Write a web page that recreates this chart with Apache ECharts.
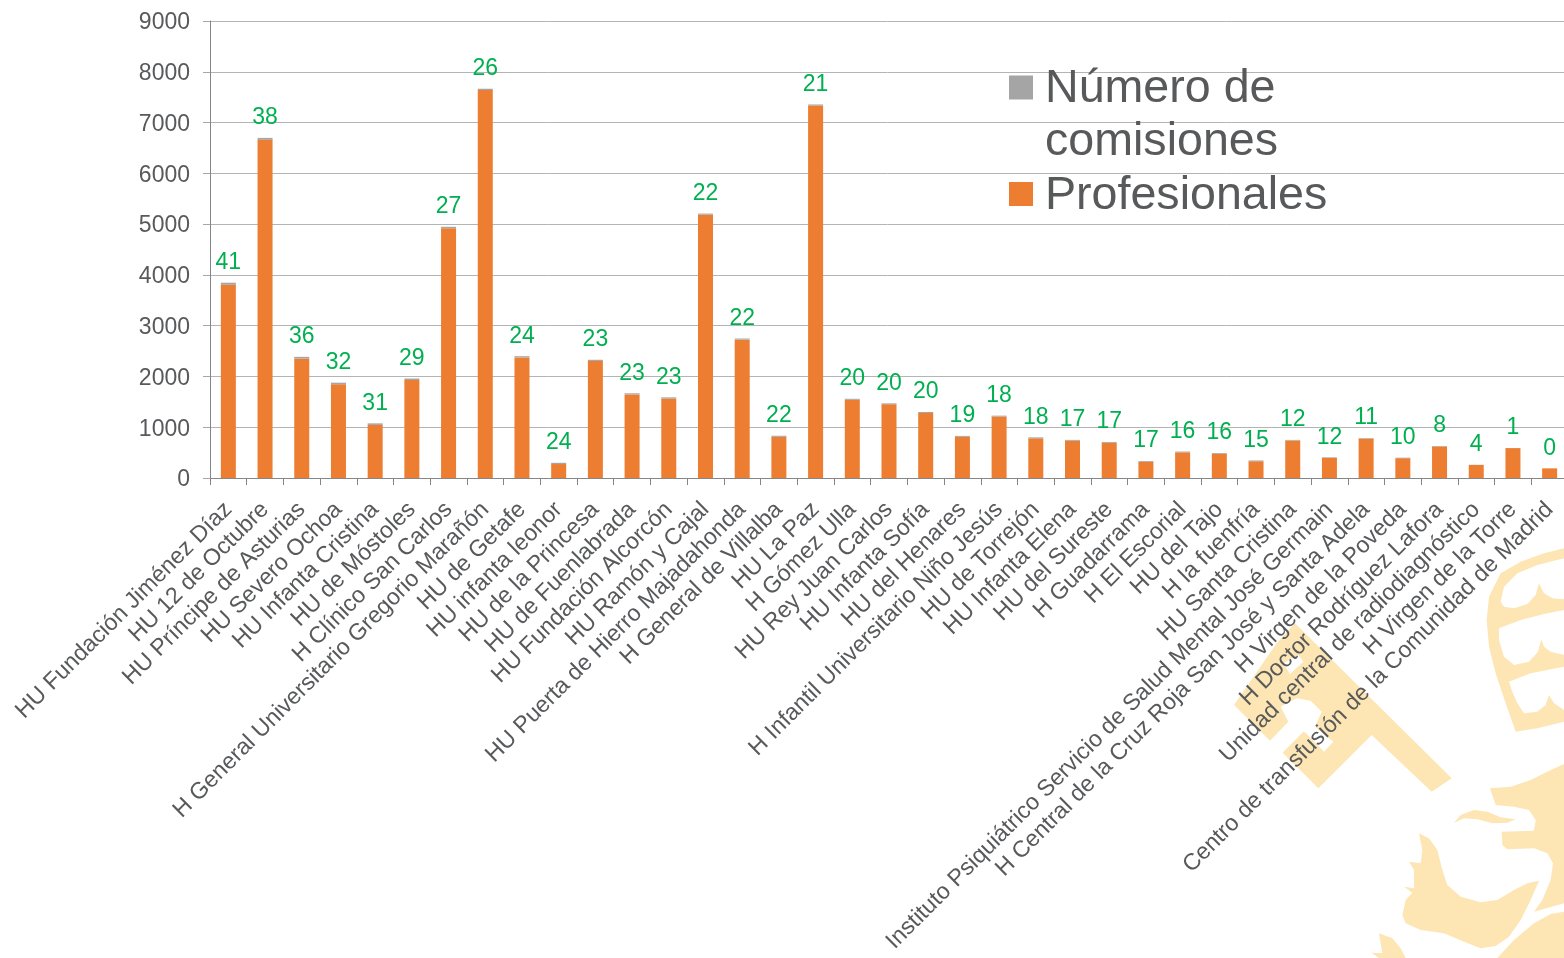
<!DOCTYPE html>
<html>
<head>
<meta charset="utf-8">
<title>Profesionales y comisiones por hospital</title>
<script src="https://cdn.jsdelivr.net/npm/echarts@6/dist/echarts.min.js"></script>
<style>
html, body { margin: 0; padding: 0; background: #fff; overflow: hidden; }
#container1 { width: 1564px; height: 958px; }
</style>
</head>
<body>
<div id="container1"></div>
<script>
var hospitales = ['HU Fundación Jiménez Díaz', 'HU 12 de Octubre', 'HU Príncipe de Asturias', 'HU Severo Ochoa', 'HU Infanta Cristina', 'HU de Móstoles', 'H Clínico San Carlos', 'H General Universitario Gregorio Marañón', 'HU de Getafe', 'HU infanta leonor', 'HU de la Princesa', 'HU de Fuenlabrada', 'HU Fundación Alcorcón', 'HU Ramón y Cajal', 'HU Puerta de Hierro Majadahonda', 'H General de Villalba', 'HU La Paz', 'H Gómez Ulla', 'HU Rey Juan Carlos', 'HU Infanta Sofía', 'HU del Henares', 'H Infantil Universitario Niño Jesús', 'HU de Torrejón', 'HU Infanta Elena', 'HU del Sureste', 'H Guadarrama', 'H El Escorial', 'HU del Tajo', 'H la fuenfría', 'HU Santa Cristina', 'Instituto Psiquiátrico Servicio de Salud Mental José Germain', 'H Central de la Cruz Roja San José y Santa Adela', 'H Virgen de la Poveda', 'H Doctor Rodríguez Lafora', 'Unidad central de radiodiagnóstico', 'H Virgen de la Torre', 'Centro de transfusión de la Comunidad de Madrid'];
var profesionales = [3805, 6660, 2350, 1845, 1045, 1930, 4920, 7640, 2375, 275, 2305, 1645, 1565, 5185, 2725, 810, 7335, 1540, 1450, 1280, 810, 1210, 782, 733, 693, 315, 505, 475, 330, 738, 395, 775, 390, 622, 256, 589, 190];
var comisiones = [41, 38, 36, 32, 31, 29, 27, 26, 24, 24, 23, 23, 23, 22, 22, 22, 21, 20, 20, 20, 19, 18, 18, 17, 17, 17, 16, 16, 15, 12, 12, 11, 10, 8, 4, 1, 0];

var textColor = '#58595B';
var fontName = '"Liberation Sans", Arial, sans-serif';
var crestColor = '#FDE6B4';

var dom1 = document.getElementById('container1');
var myChart1 = echarts.init(dom1);

// watermark crest, each group holds points at 3x scale from its own origin
function crest(points, fill) {
    return { type: 'polygon', z: -5, silent: true, shape: { points: points }, style: { fill: fill } };
}
function crestGroup(x, y, children) {
    return { type: 'group', x: x, y: y, scaleX: 1 / 3, scaleY: 1 / 3, z: -5, silent: true, children: children };
}

var llave = [
    crest([[225,280],[695,745],[635,785],[455,615],[295,775],[188,668],[255,600],[205,575],[150,632],[42,525],[170,340]], crestColor),
    crest([[182,530],[230,505],[272,512],[305,545],[285,590],[340,635],[312,665],[258,610],[205,575]], '#fff'),
    crest([[190,400],[235,375],[250,395],[210,432]], '#fff')
];
var escudo = [
    crest([[300,25],[240,40],[170,65],[110,100],[75,170],[68,240],[75,320],[95,400],[125,490],[155,575],[220,565],[300,545]], crestColor),
    crest([[110,185],[120,140],[160,100],[220,75],[300,55],[300,178],[265,175],[240,160],[225,130],[215,165],[190,192],[150,205],[120,200]], '#fff'),
    crest([[105,265],[170,240],[240,222],[300,210],[300,345],[260,335],[240,320],[232,298],[222,335],[195,365],[150,375],[120,350],[105,300]], '#fff'),
    crest([[135,425],[200,400],[300,380],[300,510],[270,490],[255,465],[245,495],[220,515],[180,520],[160,490],[145,455]], '#fff')
];
var leon = [
    crest([[378,85],[440,80],[500,60],[560,30],[600,12],[600,430],[510,455],[535,420],[560,360],[567,310],[550,280],[510,265],[430,268],[415,255],[413,215],[510,212],[515,180],[495,150],[450,140],[395,135]], crestColor),
    crest([[270,188],[290,165],[330,150],[370,155],[410,172],[455,178],[430,188],[385,190],[340,178],[300,175]], crestColor),
    crest([[165,220],[195,235],[220,270],[235,330],[250,375],[290,410],[350,427],[400,420],[450,390],[490,370],[525,362],[500,420],[470,480],[435,530],[395,558],[350,565],[300,545],[240,520],[170,510],[125,490],[115,465],[125,420],[145,398],[120,380],[150,385],[150,330],[135,305],[170,310],[175,270]], crestColor),
    crest([[400,594],[450,540],[510,490],[560,462],[600,455],[600,594]], crestColor),
    crest([[45,520],[85,535],[110,565],[125,594],[45,594],[22,578],[55,580]], crestColor)
];

var legendRich = {
    a: { color: textColor, fontFamily: fontName, fontSize: 46.6, lineHeight: 53 },
    b: { fontSize: 1, lineHeight: 57 },
    c: { fontSize: 1, lineHeight: 4 }
};

var option = {
    animation: false,
    backgroundColor: '#fff',
    textStyle: { fontFamily: fontName },
    graphic: {
        elements: [
            crestGroup(1220, 530, llave),
            crestGroup(1464, 540, escudo),
            crestGroup(1364, 760, leon)
        ]
    },
    legend: [
        {
            data: ['Número de comisiones'],
            left: 1009,
            top: 34,
            padding: 0,
            itemWidth: 24,
            itemHeight: 24,
            icon: 'rect',
            selectedMode: false,
            // spacer line keeps the icon level with the first text line
            formatter: function (name) { return '{b| }\n{a|Número de}\n{a|comisiones}'; },
            textStyle: { padding: [0, 0, 0, 7], rich: legendRich }
        },
        {
            data: ['Profesionales'],
            left: 1009,
            top: 167,
            padding: 0,
            itemWidth: 24,
            itemHeight: 24,
            icon: 'rect',
            selectedMode: false,
            formatter: function (name) { return '{c| }\n{a|' + name + '}'; },
            textStyle: { padding: [0, 0, 0, 7], rich: legendRich }
        }
    ],
    grid: { left: 210, top: 21, width: 1358, height: 457, outerBoundsMode: 'none' },
    xAxis: {
        type: 'category',
        data: hospitales,
        axisLine: { lineStyle: { color: '#868686', width: 1 } },
        axisTick: { show: true, length: 7, lineStyle: { color: '#868686' } },
        axisLabel: {
            interval: 0,
            rotate: 45,
            margin: 28,
            color: textColor,
            fontFamily: fontName,
            fontSize: 23.2
        }
    },
    yAxis: {
        type: 'value',
        min: 0,
        max: 9000,
        interval: 1000,
        axisLine: { show: true, lineStyle: { color: '#868686', width: 1 } },
        axisTick: { show: true, length: 7, lineStyle: { color: '#A8A8A8' } },
        splitLine: { lineStyle: { color: '#B4B4B4', width: 1 } },
        axisLabel: {
            margin: 20,
            formatter: function (v) { return '{s| }\n{n|' + v + '}'; },
            rich: {
                n: { color: textColor, fontFamily: fontName, fontSize: 23, lineHeight: 26 },
                s: { fontSize: 1, lineHeight: 4 }
            }
        }
    },
    series: [
        {
            name: 'Profesionales',
            type: 'bar',
            stack: 'total',
            barWidth: 15,
            itemStyle: { color: '#ED7D31' },
            data: profesionales
        },
        {
            name: 'Número de comisiones',
            type: 'bar',
            stack: 'total',
            barWidth: 15,
            itemStyle: { color: '#A5A5A5' },
            label: {
                show: true,
                position: 'top',
                distance: 8.5,
                color: '#00B050',
                fontFamily: fontName,
                fontSize: 23
            },
            data: comisiones
        }
    ]
};

if (option && typeof option === 'object') {
    myChart1.setOption(option);
}
</script>
</body>
</html>
